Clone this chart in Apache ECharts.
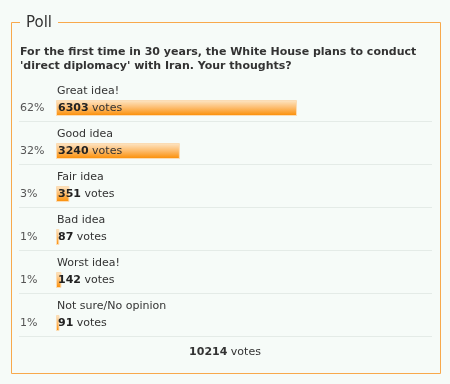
<!DOCTYPE html>
<html><head><meta charset="utf-8">
<script src="https://cdn.jsdelivr.net/npm/echarts@6/dist/echarts.min.js"></script>
<style>html,body{margin:0;padding:0;background:#f6fbf8;}#c{width:450px;height:384px;}</style>
</head><body><div id="c"></div>
<script>
const categories = ['Great idea!', 'Good idea', 'Fair idea', 'Bad idea', 'Worst idea!', 'Not sure/No opinion'];
const votes = [6303, 3240, 351, 87, 142, 91];
const percents = ['62%', '32%', '3%', '1%', '1%', '1%'];
const totalVotes = 10214;
const question = "For the first time in 30 years, the White House plans to conduct\n'direct diplomacy' with Iran. Your thoughts?";
const heading = 'Poll';

const FONT = 'DejaVu Sans';
const chart = echarts.init(document.getElementById('c'), null, {renderer: 'canvas'});
const barGrad = new echarts.graphic.LinearGradient(0, 0, 0, 1, [
  {offset: 0, color: '#fde7c8'},
  {offset: 0.45, color: '#fdbf74'},
  {offset: 1, color: '#fb8c00'}
]);
chart.setOption({
  backgroundColor: '#f6fbf8',
  animation: false,
  title: [
    {text: heading, left: 26, top: 16, padding: 0, textStyle: {fontFamily: FONT, fontSize: 15, fontWeight: 'normal', color: '#333'}},
    {text: question, left: 20, top: 45, padding: 0, textStyle: {fontFamily: FONT, fontSize: 11, fontWeight: 'bold', color: '#333', lineHeight: 14}},
    {text: '{b|' + totalVotes + '} votes', left: 'center', top: 347, padding: 0,
     textStyle: {fontFamily: FONT, fontSize: 11, color: '#333', fontWeight: 'normal',
       rich: {b: {fontFamily: FONT, fontSize: 11, fontWeight: 'bold', color: '#333'}}}}
  ],
  graphic: [
    {type: 'polyline', shape: {points: [[20, 22.5], [11.5, 22.5], [11.5, 373.5], [440.5, 373.5], [440.5, 22.5], [58, 22.5]]},
     style: {stroke: '#f8a94c', lineWidth: 1, fill: null}, silent: true}
  ],
  grid: [
    {left: 56, width: 241, top: 78, height: 258},
    {left: 19, right: 18, top: 121, height: 215}
  ],
  xAxis: [
    {type: 'value', gridIndex: 0, min: 0, max: Math.max(...votes), show: false},
    {type: 'value', gridIndex: 1, min: 0, max: 1, show: false}
  ],
  yAxis: [
    {type: 'category', gridIndex: 0, data: categories, inverse: true, show: false},
    {type: 'category', gridIndex: 1, data: categories, inverse: true, boundaryGap: false,
     axisLine: {show: false}, axisTick: {show: false}, axisLabel: {show: false},
     splitLine: {show: true, lineStyle: {color: '#e4ebe7', width: 1}}}
  ],
  series: [
    {type: 'bar', xAxisIndex: 0, yAxisIndex: 0, barWidth: 17, barGap: 0,
     data: categories.map(() => 0), itemStyle: {color: 'rgba(0,0,0,0)'},
     label: {show: true, position: [1, '50%'], align: 'left', verticalAlign: 'middle',
       formatter: p => p.name, fontFamily: FONT, fontSize: 11, color: '#333'}, silent: true},
    {type: 'bar', xAxisIndex: 0, yAxisIndex: 0, barWidth: 16, barGap: 0, stack: 'v',
     data: categories.map(() => 0), itemStyle: {color: 'rgba(0,0,0,0)'},
     label: {show: true, position: [-36, '50%'], align: 'left', verticalAlign: 'middle',
       formatter: p => percents[p.dataIndex], fontFamily: FONT, fontSize: 11, color: '#555'}, silent: true},
    {type: 'bar', xAxisIndex: 0, yAxisIndex: 0, barWidth: 16, barGap: 0, stack: 'v',
     data: votes, itemStyle: {color: barGrad, borderColor: '#fbdcb4', borderWidth: 1},
     label: {show: true, position: [2, '50%'], align: 'left', verticalAlign: 'middle',
       formatter: p => '{b|' + p.value + '} votes', fontFamily: FONT, fontSize: 11, color: '#333',
       rich: {b: {fontFamily: FONT, fontSize: 11, fontWeight: 'bold', color: '#222'}}}, silent: true}
  ]
});
</script></body></html>
